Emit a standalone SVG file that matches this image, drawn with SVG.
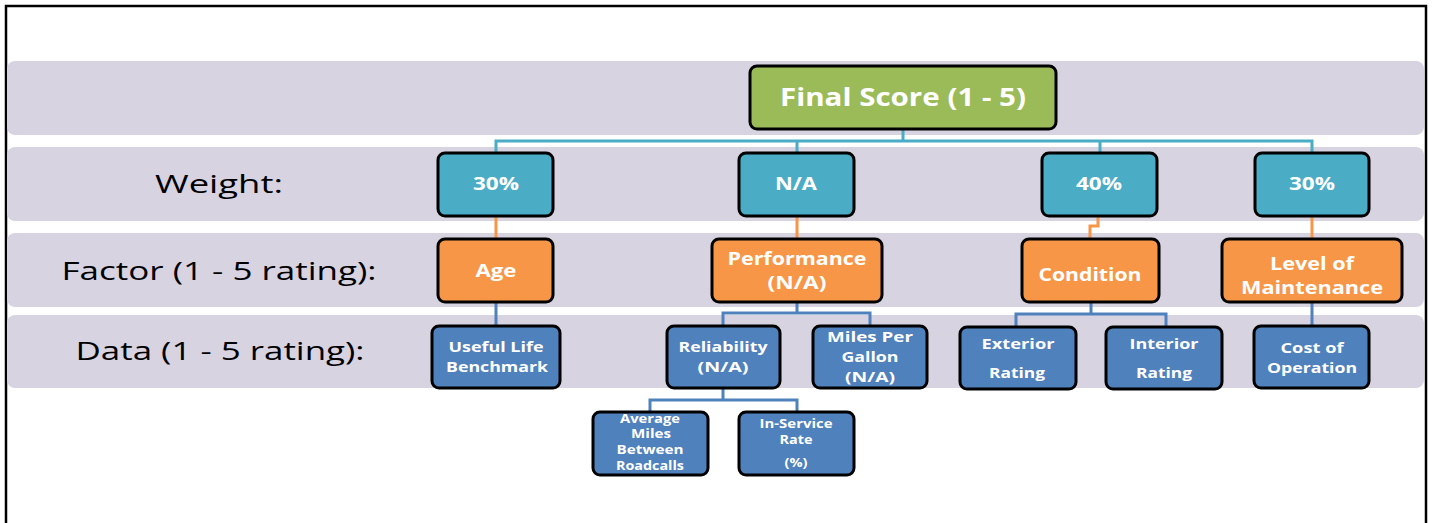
<svg xmlns="http://www.w3.org/2000/svg" width="1432" height="523" viewBox="0 0 1432 523">
<style>
.band{fill:#D7D3E1}
.box{stroke:#000;stroke-width:3}
.green{fill:#9BBB59}
.teal{fill:#4BACC6}
.orange{fill:#F79646}
.blue{fill:#4F81BD}
.t{font-family:"Open Sans","Liberation Sans",sans-serif;font-weight:bold;fill:#fff;text-anchor:middle}
.lab{font-family:"Open Sans","Liberation Sans",sans-serif;fill:#000;text-anchor:middle;font-size:26px}
.c{fill:none;stroke-width:3}
</style>
<rect x="0" y="0" width="1432" height="523" fill="#fff"/>
<path d="M6,530 V6 H1426 V530" fill="none" stroke="#000" stroke-width="2.5"/>
<g id="bands">
<rect class="band" x="7" y="61" width="1417" height="74" rx="8"/>
<rect class="band" x="7" y="147" width="1417" height="74" rx="8"/>
<rect class="band" x="7" y="233" width="1417" height="74" rx="8"/>
<rect class="band" x="7" y="315" width="1417" height="73" rx="8"/>
</g>
<g id="labels">
<text class="lab" x="219" y="193" textLength="128" lengthAdjust="spacingAndGlyphs">Weight:</text>
<text class="lab" x="219" y="280" textLength="315" lengthAdjust="spacingAndGlyphs">Factor (1 - 5 rating):</text>
<text class="lab" x="220" y="360" textLength="289" lengthAdjust="spacingAndGlyphs">Data (1 - 5 rating):</text>
</g>
<g id="connectors">
<path class="c" stroke="#4BACC6" d="M903,129 V141 M496,153 V141 H1312 V153 M797,141 V153 M1100,141 V153"/>
<path class="c" stroke="#F79646" d="M496,216 V239 M797,216 V239 M1098,216 V226 H1090 V239 M1312,216 V239"/>
<path class="c" stroke="#4F81BD" d="M496,302 V326 M797,302 V313 M723,326 V313 H870 V326 M1091,302 V314 M1016,327 V314 H1166 V327 M1312,302 V326 M723,388 V400 M650,412 V400 H797 V412"/>
</g>
<g id="final">
<rect class="box green" x="750" y="66" width="306" height="63" rx="7"/>
<text class="t" x="903" y="106" font-size="25" textLength="246" lengthAdjust="spacingAndGlyphs">Final Score (1 - 5)</text>
</g>
<g id="w1">
<rect class="box teal" x="438" y="153" width="115" height="63" rx="7"/>
<text class="t" x="496" y="190" font-size="17" textLength="46" lengthAdjust="spacingAndGlyphs">30%</text>
</g>
<g id="w2">
<rect class="box teal" x="739" y="153" width="115" height="63" rx="7"/>
<text class="t" x="796" y="190" font-size="17" textLength="42" lengthAdjust="spacingAndGlyphs">N/A</text>
</g>
<g id="w3">
<rect class="box teal" x="1042" y="153" width="115" height="63" rx="7"/>
<text class="t" x="1099" y="190" font-size="17" textLength="46" lengthAdjust="spacingAndGlyphs">40%</text>
</g>
<g id="w4">
<rect class="box teal" x="1255" y="153" width="114" height="63" rx="7"/>
<text class="t" x="1312" y="190" font-size="17" textLength="46" lengthAdjust="spacingAndGlyphs">30%</text>
</g>
<g id="f1">
<rect class="box orange" x="438" y="239" width="115" height="63" rx="7"/>
<text class="t" x="496" y="277" font-size="18" textLength="41" lengthAdjust="spacingAndGlyphs">Age</text>
</g>
<g id="f2">
<rect class="box orange" x="712" y="239" width="170" height="63" rx="7"/>
<text class="t" x="797" y="265" font-size="18" textLength="139" lengthAdjust="spacingAndGlyphs">Performance</text>
<text class="t" x="797" y="289" font-size="18" textLength="59" lengthAdjust="spacingAndGlyphs">(N/A)</text>
</g>
<g id="f3">
<rect class="box orange" x="1022" y="239" width="137" height="63" rx="7"/>
<text class="t" x="1090" y="281" font-size="18" textLength="103" lengthAdjust="spacingAndGlyphs">Condition</text>
</g>
<g id="f4">
<rect class="box orange" x="1222" y="239" width="180" height="63" rx="7"/>
<text class="t" x="1312" y="270" font-size="18" textLength="84" lengthAdjust="spacingAndGlyphs">Level of</text>
<text class="t" x="1312" y="294" font-size="18" textLength="142" lengthAdjust="spacingAndGlyphs">Maintenance</text>
</g>
<g id="d1">
<rect class="box blue" x="432" y="326" width="128" height="62" rx="7"/>
<text class="t" x="496" y="352" font-size="15" textLength="95" lengthAdjust="spacingAndGlyphs">Useful Life</text>
<text class="t" x="497" y="372" font-size="15" textLength="102" lengthAdjust="spacingAndGlyphs">Benchmark</text>
</g>
<g id="d2">
<rect class="box blue" x="667" y="326" width="113" height="62" rx="7"/>
<text class="t" x="723" y="352" font-size="15" textLength="89" lengthAdjust="spacingAndGlyphs">Reliability</text>
<text class="t" x="723" y="372" font-size="15" textLength="51" lengthAdjust="spacingAndGlyphs">(N/A)</text>
</g>
<g id="d3">
<rect class="box blue" x="813" y="326" width="114" height="62" rx="7"/>
<text class="t" x="870" y="342" font-size="14" textLength="86" lengthAdjust="spacingAndGlyphs">Miles Per</text>
<text class="t" x="870" y="362" font-size="14" textLength="57" lengthAdjust="spacingAndGlyphs">Gallon</text>
<text class="t" x="870" y="382" font-size="14" textLength="50" lengthAdjust="spacingAndGlyphs">(N/A)</text>
</g>
<g id="d4">
<rect class="box blue" x="960" y="327" width="116" height="62" rx="7"/>
<text class="t" x="1018" y="349" font-size="15" textLength="73" lengthAdjust="spacingAndGlyphs">Exterior</text>
<text class="t" x="1017" y="378" font-size="15" textLength="56" lengthAdjust="spacingAndGlyphs">Rating</text>
</g>
<g id="d5">
<rect class="box blue" x="1106" y="327" width="116" height="62" rx="7"/>
<text class="t" x="1164" y="349" font-size="15" textLength="69" lengthAdjust="spacingAndGlyphs">Interior</text>
<text class="t" x="1164" y="378" font-size="15" textLength="56" lengthAdjust="spacingAndGlyphs">Rating</text>
</g>
<g id="d6">
<rect class="box blue" x="1254" y="326" width="115" height="62" rx="7"/>
<text class="t" x="1312" y="353" font-size="15" textLength="63" lengthAdjust="spacingAndGlyphs">Cost of</text>
<text class="t" x="1312" y="373" font-size="15" textLength="90" lengthAdjust="spacingAndGlyphs">Operation</text>
</g>
<g id="s1">
<rect class="box blue" x="593" y="412" width="115" height="63" rx="7"/>
<text class="t" x="650" y="423" font-size="11.5" textLength="60" lengthAdjust="spacingAndGlyphs">Average</text>
<text class="t" x="651" y="438" font-size="11.5" textLength="40" lengthAdjust="spacingAndGlyphs">Miles</text>
<text class="t" x="650" y="454" font-size="11.5" textLength="67" lengthAdjust="spacingAndGlyphs">Between</text>
<text class="t" x="650" y="470" font-size="11.5" textLength="68" lengthAdjust="spacingAndGlyphs">Roadcalls</text>
</g>
<g id="s2">
<rect class="box blue" x="739" y="412" width="115" height="63" rx="7"/>
<text class="t" x="796" y="428" font-size="12" textLength="73" lengthAdjust="spacingAndGlyphs">In-Service</text>
<text class="t" x="796" y="444" font-size="12" textLength="33" lengthAdjust="spacingAndGlyphs">Rate</text>
<text class="t" x="796" y="467" font-size="12" textLength="23" lengthAdjust="spacingAndGlyphs">(%)</text>
</g>
</svg>
